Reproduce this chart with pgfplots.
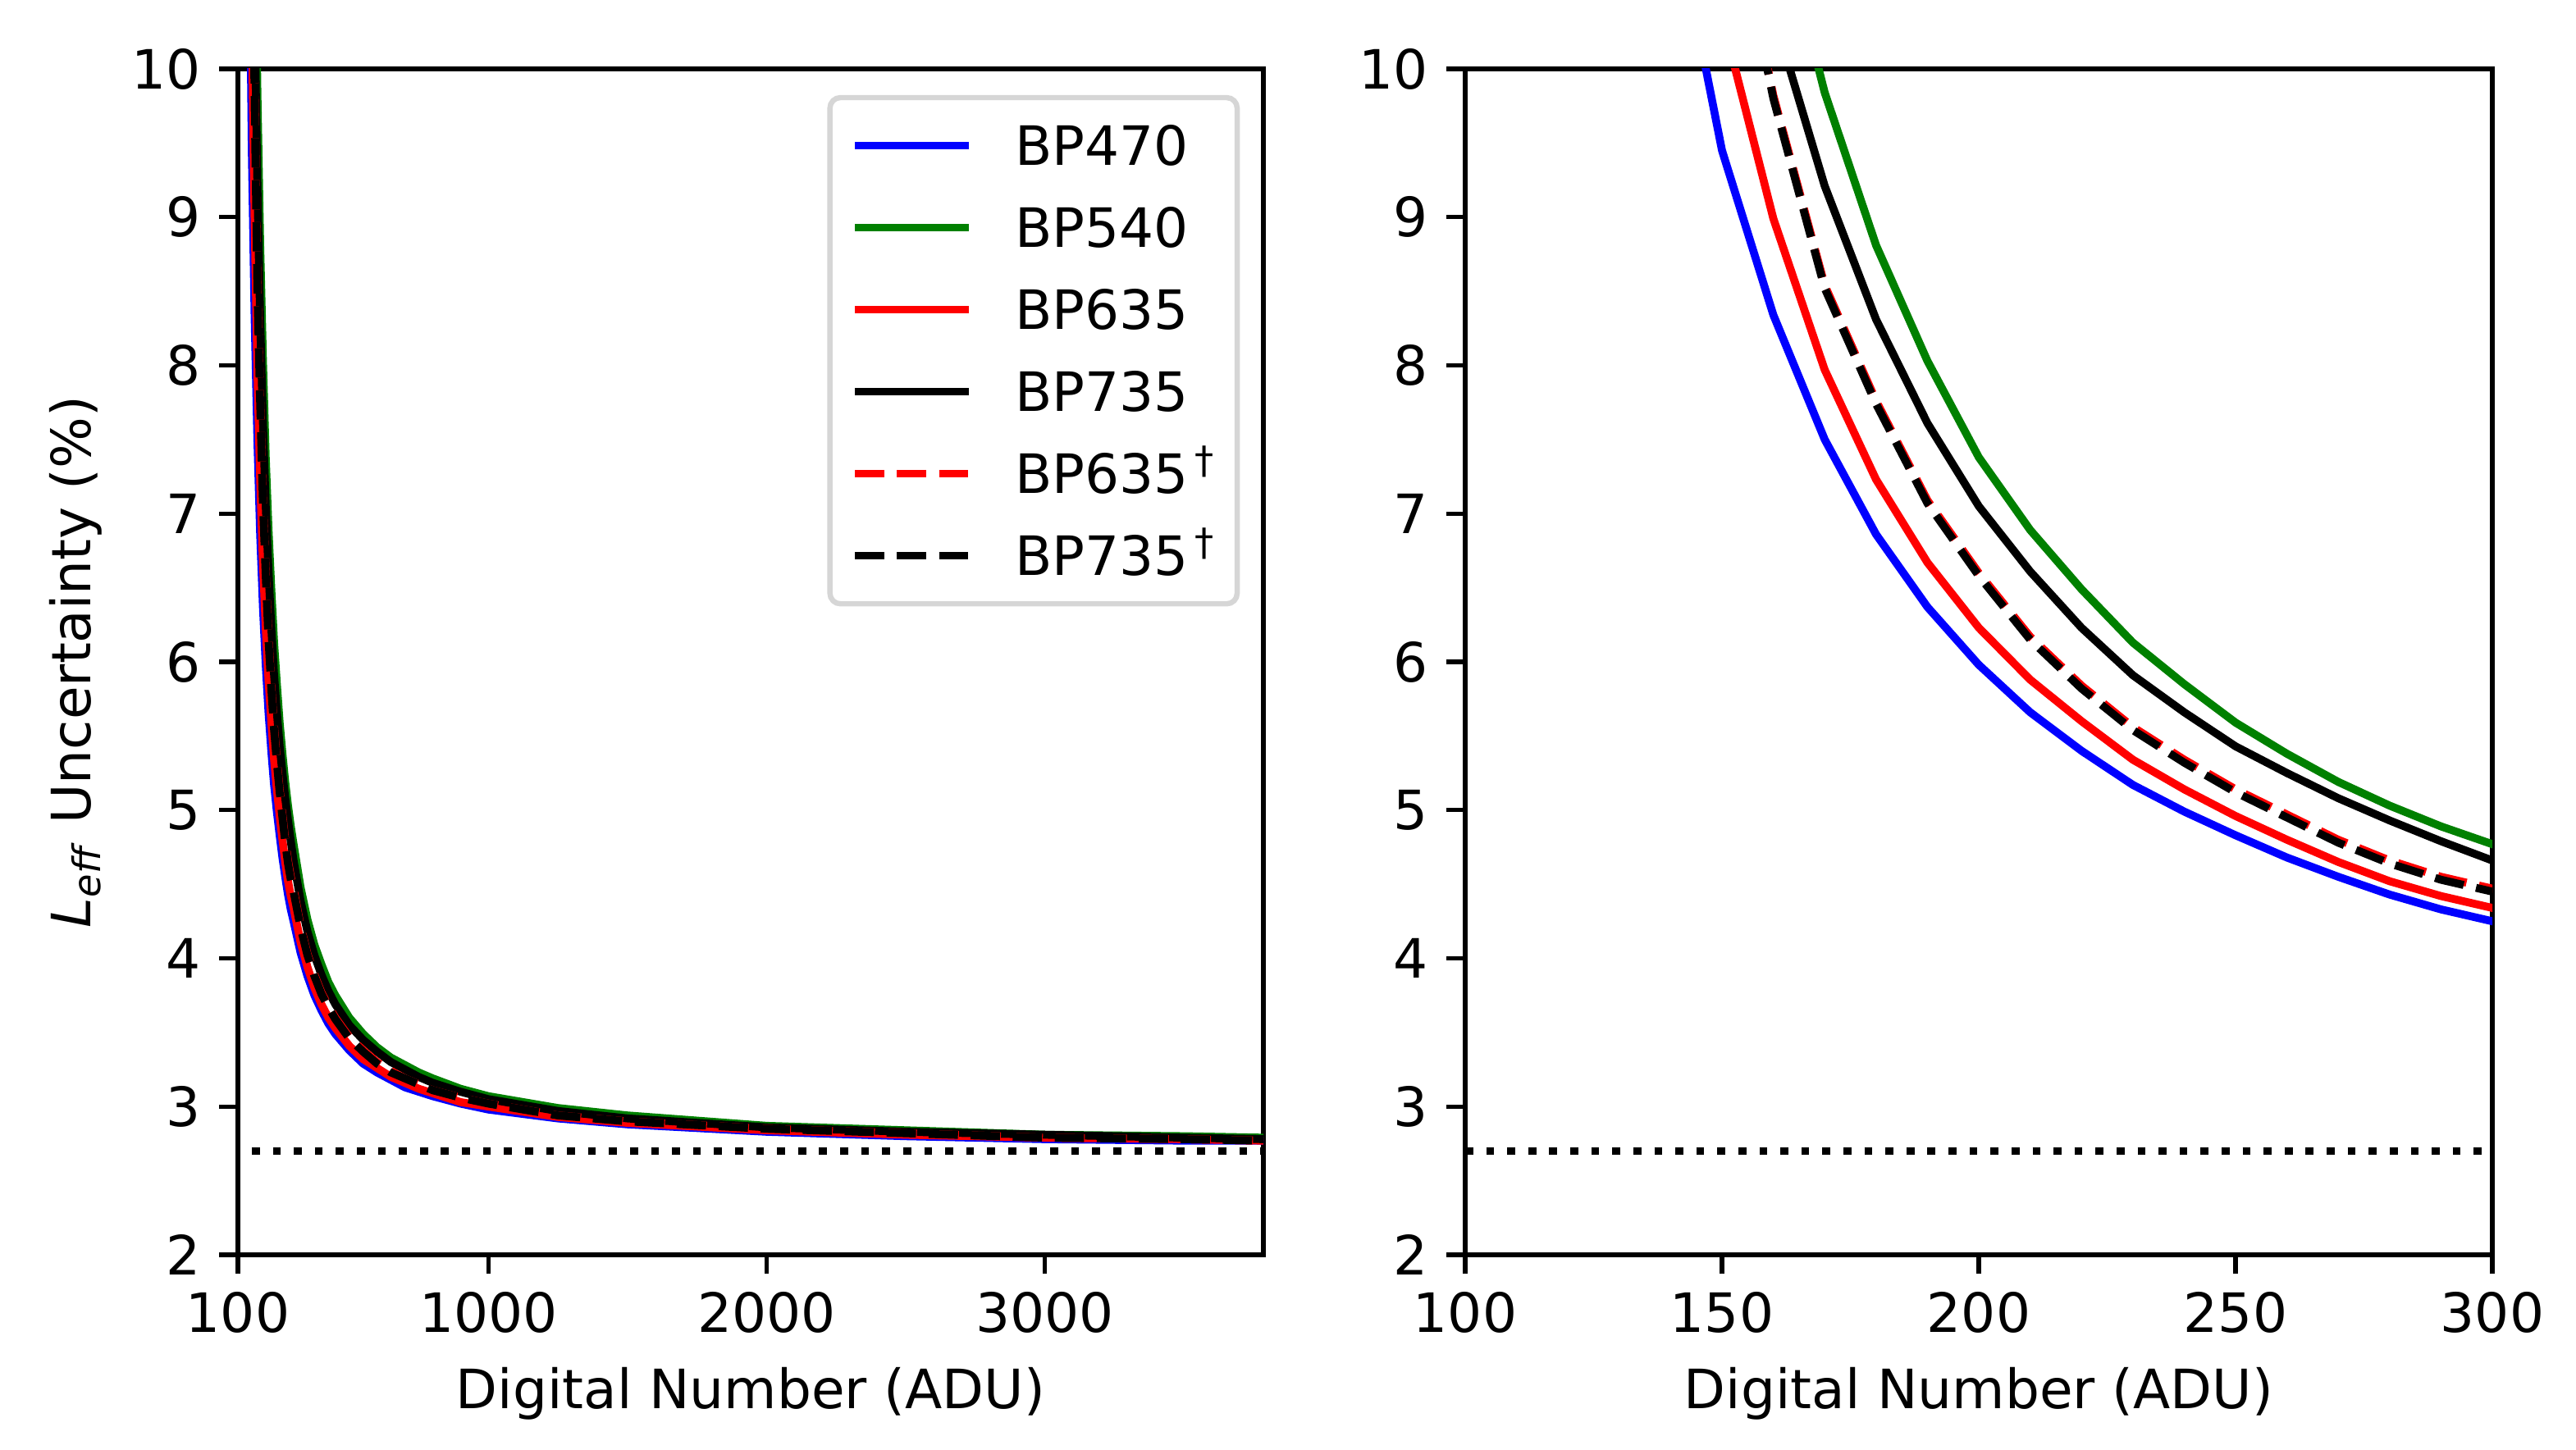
\documentclass[border=0pt]{standalone}
\usepackage{pgfplots}
\pgfplotsset{compat=1.18}
\usepackage{pgfplotstable}
\usepackage{fontspec}
\setmainfont{DejaVu Sans}

\definecolor{mplgreen}{rgb}{0,0.502,0}
\definecolor{legedge}{RGB}{214,214,214}

\pgfplotstableread{
x    b     g     r     k     rd    kd
140  11.2  14.0  12.0  13.3  13.5  13.5
150  9.45  12.8  10.35 11.7  11.5  11.5
160  8.34  11.2  8.99  10.37 9.82  9.80
170  7.50  9.84  7.97  9.21  8.54  8.52
180  6.86  8.81  7.23  8.31  7.76  7.74
190  6.37  8.03  6.67  7.61  7.09  7.07
200  5.98  7.38  6.23  7.05  6.60  6.58
210  5.66  6.89  5.88  6.61  6.17  6.15
220  5.40  6.49  5.60  6.23  5.84  5.82
230  5.17  6.13  5.34  5.91  5.56  5.54
240  4.99  5.85  5.14  5.66  5.34  5.32
250  4.83  5.59  4.96  5.43  5.14  5.12
260  4.68  5.38  4.80  5.25  4.97  4.95
270  4.55  5.19  4.65  5.08  4.80  4.78
280  4.43  5.03  4.52  4.93  4.66  4.64
290  4.33  4.89  4.42  4.79  4.55  4.53
300  4.25  4.77  4.34  4.66  4.47  4.45
325  4.04  4.48  4.11  4.39  4.22  4.21
350  3.88  4.26  3.94  4.18  4.03  4.02
375  3.75  4.09  3.80  4.02  3.89  3.88
400  3.65  3.96  3.69  3.89  3.77  3.76
425  3.56  3.84  3.60  3.78  3.68  3.67
450  3.49  3.75  3.53  3.69  3.60  3.59
500  3.38  3.60  3.41  3.55  3.47  3.46
550  3.29  3.49  3.32  3.45  3.38  3.37
600  3.23  3.40  3.26  3.37  3.30  3.29
650  3.18  3.33  3.20  3.30  3.24  3.23
700  3.13  3.28  3.16  3.25  3.19  3.19
750  3.10  3.23  3.12  3.20  3.15  3.15
800  3.07  3.19  3.09  3.16  3.11  3.11
900  3.02  3.12  3.03  3.10  3.06  3.06
1000 2.98  3.07  3.00  3.05  3.02  3.02
1250 2.92  2.99  2.93  2.97  2.94  2.94
1500 2.88  2.94  2.89  2.92  2.90  2.90
2000 2.83  2.87  2.84  2.86  2.85  2.85
2500 2.80  2.84  2.81  2.83  2.82  2.82
3000 2.78  2.81  2.79  2.81  2.79  2.79
3500 2.77  2.80  2.78  2.79  2.78  2.78
3785 2.77  2.79  2.77  2.78  2.77  2.77
}\data

\pgfplotsset{
  myax/.style={
    scale only axis,
    ymin=2, ymax=10, ytick={2,3,...,10},
    axis line style={line width=0.93pt},
    every tick/.style={black, line width=0.93pt},
    major tick length=4.06pt,
    tick align=outside,
    xtick pos=left, ytick pos=left,
    /pgf/number format/assume math mode=true,
    /pgf/number format/1000 sep={},
    every axis plot/.append style={line width=1.74pt, line join=round},
    clip=true,
  },
  dotstyle/.style={black, line width=1.74pt, dash pattern=on 1.74pt off 2.87pt, line cap=butt, forget plot},
  dashstyle/.style={line width=1.74pt, dash pattern=on 6.44pt off 2.78pt, line cap=butt},
}

\begin{document}
\fontsize{11.9}{14.3}\selectfont
\begin{tikzpicture}
\useasboundingbox (0,0) rectangle (565.2pt,318.24pt);
\begin{axis}[myax,
  at={(52.2pt,42.84pt)}, anchor=south west,
  width=225pt, height=260.28pt,
  xmin=100, xmax=3785,
  xtick={100,1000,2000,3000},
  xlabel={Digital Number (ADU)},
  ylabel={\textit{L}\textsubscript{\textit{eff}} Uncertainty (\%)},
  xlabel style={at={(axis description cs:0.5,-0.117)}, anchor=center},
  ylabel style={at={(axis description cs:-0.158,0.5)}, anchor=center},
  legend style={at={(0.977,0.978)}, anchor=north east,
    draw=legedge, line width=1.16pt, rounded corners=2.3pt, fill=white,
    inner xsep=4.6pt, inner ysep=6.2pt, row sep=9.3pt, column sep=9.3pt,
    nodes={inner sep=0pt, text height=8.7pt, text depth=0pt}},
  legend cell align=left,
  legend image code/.code={\draw[#1] (0pt,0pt) -- (25pt,0pt);},
]
\addplot[dotstyle] coordinates {(150,2.7) (3785,2.7)};
\addplot[blue] table[x=x,y=b]{\data};
\addlegendentry{BP470}
\addplot[mplgreen] table[x=x,y=g]{\data};
\addlegendentry{BP540}
\addplot[red] table[x=x,y=r]{\data};
\addlegendentry{BP635}
\addplot[black] table[x=x,y=k]{\data};
\addlegendentry{BP735}
\addplot[red, dashstyle] table[x=x,y=rd]{\data};
\addlegendentry{BP635\textsuperscript{\,†}}
\addplot[black, dashstyle] table[x=x,y=kd]{\data};
\addlegendentry{BP735\textsuperscript{\,†}}
\end{axis}

\begin{axis}[myax,
  at={(321.48pt,42.84pt)}, anchor=south west,
  width=225.36pt, height=260.28pt,
  xmin=100, xmax=300,
  xtick={100,150,200,250,300},
  xlabel={Digital Number (ADU)},
  xlabel style={at={(axis description cs:0.5,-0.117)}, anchor=center},
]
\addplot[dotstyle] coordinates {(100,2.7) (300,2.7)};
\addplot[blue] table[x=x,y=b]{\data};
\addplot[mplgreen] table[x=x,y=g]{\data};
\addplot[red] table[x=x,y=r]{\data};
\addplot[black] table[x=x,y=k]{\data};
\addplot[red, dashstyle] table[x=x,y=rd]{\data};
\addplot[black, dashstyle] table[x=x,y=kd]{\data};
\end{axis}
\end{tikzpicture}
\end{document}
